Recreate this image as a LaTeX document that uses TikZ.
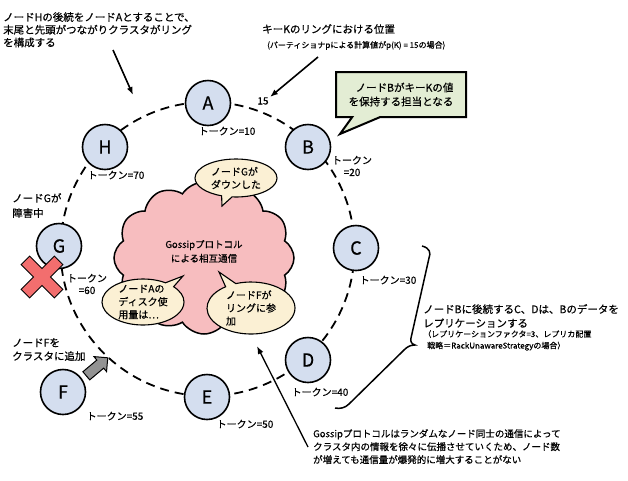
\documentclass[tikz,border=0pt]{standalone}
\usepackage{fontspec}
\setmainfont{Noto Sans CJK JP}[FakeBold=0.5]
\usetikzlibrary{shapes.symbols,shapes.callouts,shapes.arrows,arrows.meta}

\definecolor{nodeblue}{HTML}{D4DEEF}
\definecolor{bubblecream}{HTML}{FBF0D4}
\definecolor{cloudpink}{HTML}{F7BDBF}
\definecolor{notegreen}{HTML}{E3EDD4}
\definecolor{crossred}{HTML}{F26E6E}

\tikzset{
  ringnode/.style={circle,draw,line width=1.6pt,fill=nodeblue,minimum size=45pt,inner sep=0pt,font=\fontsize{18}{18}\selectfont},
  token/.style={font=\fontsize{10}{12}\selectfont,inner sep=0pt,align=center},
  note/.style={font=\fontsize{10.5}{13}\selectfont,inner sep=0pt,align=left,anchor=north west},
  smallnote/.style={font=\fontsize{8}{11.5}\selectfont,inner sep=0pt,align=left,anchor=north west},
  bubble/.style={ellipse callout,draw,line width=1.1pt,fill=bubblecream,inner sep=-3pt,align=left,font=\fontsize{10}{13}\selectfont},
  pointer/.style={-{Latex[length=8pt,width=6pt]},line width=1.6pt},
  ring/.style={line width=1.8pt,dash pattern=on 9pt off 6pt},
}

\begin{document}
\begin{tikzpicture}[x=1pt,y=-1pt]
\useasboundingbox (0,0) rectangle (628,480);

% ring
\draw[ring] (207.5,249) circle[radius=147];

% nodes on the ring
\node[ringnode] (A) at (208,103) {A};
\node[ringnode] (B) at (308,147) {B};
\node[ringnode] (C) at (356,248) {C};
\node[ringnode] (D) at (308,360) {D};
\node[ringnode] (E) at (207,397) {E};
\node[ringnode] (G) at (59,246) {G};
\node[ringnode] (H) at (105,147) {H};
\node[ringnode] (F) at (63,392) {F};

% tokens
\node[token] (tokA) at (227,131) {トークン=10};
\node[token] (tokB) at (352,166) {トークン\\=20};
\node[token] (tokC) at (388,280) {トークン=30};
\node[token] (tokD) at (320,392) {トークン=40};
\node[token] (tokE) at (245,424) {トークン=50};
\node[token] (tokF) at (115,416) {トークン=55};
\node[token] (tokG) at (87,284) {トークン\\=60};
\node[token] (tokH) at (116,175) {トークン=70};
\node[token] (keyval) at (263,101) {15};

% node G is down
\begin{scope}[shift={(42,277)},rotate=45]
  \filldraw[fill=crossred,line width=1pt] (-6,-23.5) -- (6,-23.5) -- (6,-6) -- (23.5,-6) -- (23.5,6) -- (6,6)
    -- (6,23.5) -- (-6,23.5) -- (-6,6) -- (-23.5,6) -- (-23.5,-6) -- (-6,-6) -- cycle;
\end{scope}
\node[note,font=\fontsize{10.5}{15}\selectfont] (downG) at (12,193) {ノードGが\\障害中};

% node F joins
\node[single arrow,draw,fill=gray!85,line width=1pt,minimum height=28pt,inner sep=4.8pt,
  single arrow head extend=4.5pt,rotate=40] (joinF) at (95,368.5) {};
\node[note,font=\fontsize{10.5}{13.5}\selectfont] (addF) at (12,338) {ノードFを\\クラスタに追加};

% gossip cloud
\node[cloud,draw,line width=1.5pt,fill=cloudpink,cloud puffs=12,cloud puff arc=115,aspect=1.2,
  minimum width=180pt,minimum height=152pt,align=center,font=\fontsize{9.5}{14}\selectfont] (gossip)
  at (204,258) {Gossipプロトコル\\による相互通信\\\mbox{}};
\node[bubble,minimum width=82pt,minimum height=38pt,callout absolute pointer={(222,206)}] (msgG)
  at (236,178) {ノードGが\\ダウンした};
\node[bubble,minimum width=82pt,minimum height=46pt,callout absolute pointer={(183,276)}] (msgA)
  at (143,302) {ノードAの\\ディスク使\\用量は…};
\node[bubble,minimum width=88pt,minimum height=52pt,callout absolute pointer={(219,272)}] (msgF)
  at (251,308) {ノードFが\\リングに参\\加};

% notes and arrows
\node[note,font=\fontsize{10.5}{12.7}\selectfont] (ringnote) at (3,12)
  {ノードHの後続をノードAとすることで、\\末尾と先頭がつながりクラスタがリング\\を構成する};
\coordinate (ringnoteend) at (113,50);
\coordinate (ringpt) at (133,95);
\draw[pointer] (ringnoteend) -- (ringpt);

\node[note] (keynote) at (262,24) {キーKのリングにおける位置};
\node[smallnote] (keycalc) at (267,41) {(パーティショナpによる計算値がp(K) = 15の場合)};
\coordinate (keynoteend) at (318,57);
\coordinate (keypt) at (270,97);
\draw[pointer] (keynoteend) -- (keypt);

\node[rectangle callout,draw,line width=2pt,fill=notegreen,minimum width=130pt,minimum height=45pt,
  callout absolute pointer={(340,134)},callout pointer width=28pt,align=right,
  font=\fontsize{10.5}{14}\selectfont] (owner) at (401,94.5) {ノードBがキーKの値\\を保持する担当となる};

% replicas
\draw[line width=1.5pt] (422,246) .. controls (430,248) and (431,253) .. (429,258) -- (411,338)
  .. controls (410,342) and (412,344) .. (415,345)
  .. controls (410,345) and (407,347) .. (404,350) -- (349,404)
  .. controls (345,408) and (340,409) .. (335,408);
\node[note,font=\fontsize{10.5}{14}\selectfont] (replnote) at (423,304)
  {ノードBに後続するC、Dは、Bのデータを\\レプリケーションする};
\node[smallnote] (replcalc) at (423,330)
  {（レプリケーションファクタ=3、レプリカ配置\\\hspace{4pt}戦略＝RackUnawareStrategyの場合）};

% gossip note
\node[note,font=\fontsize{9.5}{13}\selectfont] (gossipnote) at (313,429)
  {Gossipプロトコルはランダムなノード同士の通信によって\\クラスタ内の情報を徐々に伝播させていくため、ノード数\\が増えても通信量が爆発的に増大することがない};
\coordinate (gossipend) at (308,447);
\coordinate (gossippt) at (257,346);
\draw[pointer,line width=1.3pt] (gossipend) -- (gossippt);
\end{tikzpicture}
\end{document}
